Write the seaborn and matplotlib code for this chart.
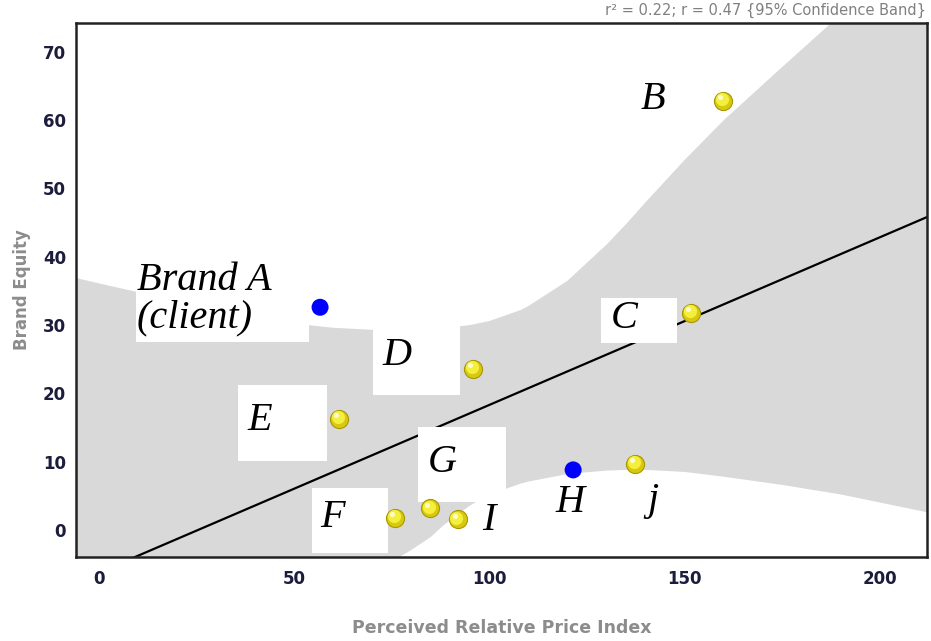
import pandas as pd
import seaborn as sns
import matplotlib.pyplot as plt
from matplotlib.patches import Rectangle
from matplotlib.transforms import offset_copy

# brand positions
brands = ["Brand A", "B", "C", "D", "E", "F", "G", "H", "I", "j"]
price_index = [56.6, 159.8, 151.6, 95.8, 61.5, 75.8, 84.8, 121.4, 91.9, 137.3]
brand_equity = [32.6, 62.8, 31.8, 23.6, 16.3, 1.8, 3.2, 8.8, 1.6, 9.7]
group = ["key", "other", "other", "other", "other", "other", "other", "key", "other", "other"]

# confidence band edges
band_x = [-6, 0, 10, 20, 25, 40, 55, 60, 70, 75, 80, 85, 88, 95, 100, 108, 110,
          120, 130, 135, 140, 150, 160, 175, 190, 212]
band_lower = [-25, -23, -20, -18, -17, -13, -9.5, -8, -5.8, -4.6, -2.9, -1.0, 0.6, 3.6, 5.2,
              6.8, 7.1, 8.2, 8.7, 8.8, 8.8, 8.5, 7.8, 6.6, 5.2, 2.6]
band_upper = [36.9, 36.1, 34.8, 33.5, 32.9, 31.1, 29.9, 29.6, 29.3, 29.2, 29.2, 29.3, 29.5, 30.0, 30.6,
              32.2, 32.8, 36.5, 41.8, 44.8, 48.0, 54.2, 60.0, 67.8, 75.5, 87.0]

df = pd.DataFrame({"brand": brands, "price": price_index, "equity": brand_equity, "group": group})

sns.set_style("white")
plt.rcParams['font.family'] = ['DejaVu Sans']

fig = plt.figure(figsize=(9.31, 6.41), dpi=100)
ax = fig.add_axes([0.0816, 0.131, 0.9141, 0.8331])
xlim = (-5.9, 212.0)
ylim = (-3.95, 74.2)
ax.set_xlim(xlim)
ax.set_ylim(ylim)

ax.fill_between(band_x, band_lower, band_upper, color="#d9d9d9", lw=0, zorder=1)

sns.regplot(data=df, x="price", y="equity", scatter=False, ci=None, truncate=False,
            color="black", line_kws={"lw": 1.6, "zorder": 2}, ax=ax)

# white label backgrounds
boxes = [(9.5, 27.5, 53.8, 39.5), (128.6, 27.4, 148.0, 34.0), (70.2, 19.8, 92.4, 30.2),
         (35.6, 10.1, 58.4, 21.2), (54.5, -3.4, 74.0, 6.1), (81.7, 4.1, 104.2, 15.1)]
for x0, y0, x1, y1 in boxes:
    ax.add_patch(Rectangle((x0, y0), x1 - x0, y1 - y0, fc="white", ec="none", zorder=3))

others = df[df["group"] == "other"]
keys = df[df["group"] == "key"]
sns.scatterplot(data=others, x="price", y="equity", s=170, color="#d8c810",
                edgecolor="#a89800", linewidth=0.8, zorder=4, legend=False, ax=ax)
# small highlight to give the balls some shine
shine = offset_copy(ax.transData, fig=fig, x=-1.5, y=1.5, units="dots")
ax.scatter(others["price"], others["equity"], s=90, color="#f4ee3c", lw=0, zorder=4.5,
           transform=shine)
ax.scatter(others["price"], others["equity"], s=14, color="#fdfbc8", lw=0, zorder=4.6,
           transform=offset_copy(ax.transData, fig=fig, x=-3, y=3.5, units="dots"))
sns.scatterplot(data=keys, x="price", y="equity", s=150, color="#0000ff",
                edgecolor="none", zorder=4, legend=False, ax=ax)

label_pos = {"Brand A": (9.7, 35.1), "B": (138.8, 61.6), "C": (131.1, 29.6), "D": (72.5, 24.2),
             "E": (37.9, 14.6), "F": (56.6, 0.4), "G": (84.3, 8.5), "H": (116.8, 2.6),
             "I": (98.1, 0.0), "j": (140.3, 2.9)}
lab_font = dict(family="Liberation Serif", style="italic", size=29, color="black", zorder=5)
for name in brands:
    lx, ly = label_pos[name]
    ax.text(lx, ly, name, ha="left", va="baseline", **lab_font)
ax.text(9.7, 29.6, "(client)", ha="left", va="baseline", **lab_font)

ax.set_xlim(xlim)
ax.set_ylim(ylim)
ax.set_xticks([0, 50, 100, 150, 200])
ax.set_yticks(range(0, 71, 10))
ax.tick_params(length=0, labelsize=12, labelcolor="#1c1c3c")
ax.tick_params(axis="x", pad=9)
ax.tick_params(axis="y", pad=7)
for lab in ax.get_xticklabels() + ax.get_yticklabels():
    lab.set_fontweight("bold")

ax.set_xlabel("Perceived Relative Price Index", fontsize=12.5, fontweight="bold", color="#8c8c8c")
ax.set_ylabel("Brand Equity", fontsize=12, fontweight="bold", color="#8c8c8c")
ax.xaxis.set_label_coords(0.5, -0.133)
ax.xaxis.label.set_va("center")
ax.yaxis.set_label_coords(-0.063, 0.5)
ax.yaxis.label.set_va("center")

for side in ["left", "bottom", "top", "right"]:
    ax.spines[side].set_visible(True)
    ax.spines[side].set_color("#222222")
    ax.spines[side].set_linewidth(1.8)

fig.text(0.995, 0.983, "r\u00b2 = 0.22; r = 0.47 {95% Confidence Band}", ha="right", va="center",
         fontsize=10.5, color="#808080")

fig.savefig("out.png", dpi=100)
